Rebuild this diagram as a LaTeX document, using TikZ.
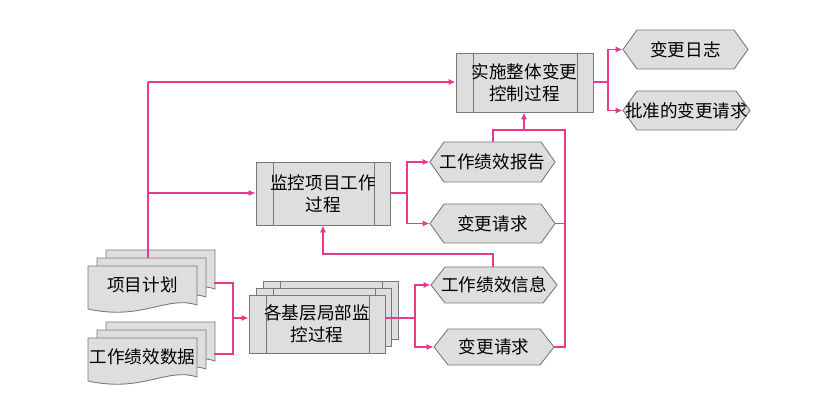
\documentclass[tikz,border=0pt]{standalone}
\usepackage{fontspec}
\setmainfont{Noto Sans CJK SC}
\usetikzlibrary{arrows.meta}
\definecolor{pk}{RGB}{232,58,138}
\definecolor{bx}{RGB}{222,222,222}
\definecolor{ed}{RGB}{120,120,120}
\tikzset{
 fl/.style={draw=pk,line width=0.8pt},
 ar/.style={fl,-{Latex[length=4pt,width=3.5pt]}},
 shp/.style={draw=ed,fill=bx,line width=0.5pt},
 lbl/.style={font=\fontsize{10}{12.5}\selectfont,align=center,inner sep=0pt},
}
\newcommand{\hexn}[6]{%
 \path[shp] (#2,{(#3+#5)/2}) -- (#2+14,#3) -- (#4-14,#3) -- (#4,{(#3+#5)/2}) -- (#4-14,#5) -- (#2+14,#5) -- cycle;
 \node[lbl,minimum width={(#4-#2)*0.02cm},minimum height={(#5-#3)*0.02cm}] (#1) at ({(#2+#4)/2},{(#3+#5)/2}) {#6};}
\newcommand{\procn}[6]{%
 \path[shp] (#2,#3) rectangle (#4,#5);
 \draw[ed,line width=0.4pt] (#2+17,#3) -- (#2+17,#5) (#4-16,#3) -- (#4-16,#5);
 \node[lbl,minimum width={(#4-#2)*0.02cm},minimum height={(#5-#3)*0.02cm}] (#1) at ({(#2+#4)/2},{(#3+#5)/2}) {#6};}
\newcommand{\docshape}[4]{%
 \path[shp] (#1,#2) -- (#3,#2) -- (#3,#4-4) .. controls (#3-30,#4-14) and ({(#1+#3)/2},#4+12) .. (#1,#4) -- cycle;}
\newcommand{\docn}[6]{%
 \docshape{#2+18}{#3-16}{#4+18}{#5-16}
 \docshape{#2+9}{#3-8}{#4+9}{#5-8}
 \docshape{#2}{#3}{#4}{#5}
 \node[lbl,minimum width={(#4-#2)*0.02cm},minimum height={(#5-#3)*0.02cm}] (#1) at ({(#2+#4)/2},{(#3+#5)/2-3}) {#6};}
\begin{document}
\begin{tikzpicture}[x=0.02cm,y=-0.02cm]
\useasboundingbox (0,0) rectangle (828,404);
\procn{ctrl}{456}{53}{593}{112}{实施整体变更\\控制过程}
\hexn{log}{623}{30}{748}{69}{变更日志}
\hexn{appr}{623}{91}{750}{130}{批准的变更请求}
\procn{mon}{256}{162}{390}{225}{监控项目工作\\过程}
\hexn{rep}{430}{142}{555}{182}{工作绩效报告}
\hexn{cr1}{430}{204}{555}{243}{变更请求}
\path[shp] (263,281) rectangle (398,339);
\path[shp] (256,288) rectangle (391,346);
\draw[ed,line width=0.4pt] (280,281)--(280,288) (382,281)--(382,288) (273,288)--(273,295) (375,288)--(375,295);
\procn{loc}{249}{295}{385}{353}{各基层局部监\\控过程}
\hexn{info}{431}{267}{557}{303}{工作绩效信息}
\hexn{cr2}{434}{329}{554}{365}{变更请求}
\docn{plan}{88}{266}{197}{309}{项目计划}
\docn{data}{88}{338}{197}{381}{工作绩效数据}
\coordinate (c1) at (608,82);
\draw[fl] (ctrl.east|-c1) -- (c1);
\draw[ar] (c1) |- (log.west);
\draw[ar] (c1) |- (appr.west);
\coordinate (c2) at (407,193);
\draw[fl] (mon.east|-c2) -- (c2);
\draw[ar] (c2) |- (rep.west);
\draw[ar] (c2) |- (cr1.west);
\coordinate (c3) at (415,318);
\draw[fl] (385,318) -- (c3);
\draw[ar] (c3) |- (info.west);
\draw[ar] (c3) |- (cr2.west);
\coordinate (c4) at (565,130);
\coordinate (c5) at (524,130);
\draw[fl] (rep.north-|493,0) -- (493,130) -- (c4) |- (cr2.east);
\draw[fl] (cr1.east) -- (cr1.east-|c4);
\draw[ar] (c5) -- (ctrl.south-|c5);
\coordinate (c6) at (323,254);
\draw[ar] (info.north-|493,0) -- (493,254) -- (c6) -- (mon.south-|c6);
\coordinate (c7) at (233,318);
\draw[fl] (214,283) -| (c7) |- (214,354);
\draw[ar] (c7) -- (loc.west|-c7);
\coordinate (c8) at (148,82);
\draw[fl] (148,258) -- (c8);
\draw[ar] (c8) -- (ctrl.west|-c8);
\draw[ar] (148,193) -- (mon.west|-0,193);
\end{tikzpicture}
\end{document}
